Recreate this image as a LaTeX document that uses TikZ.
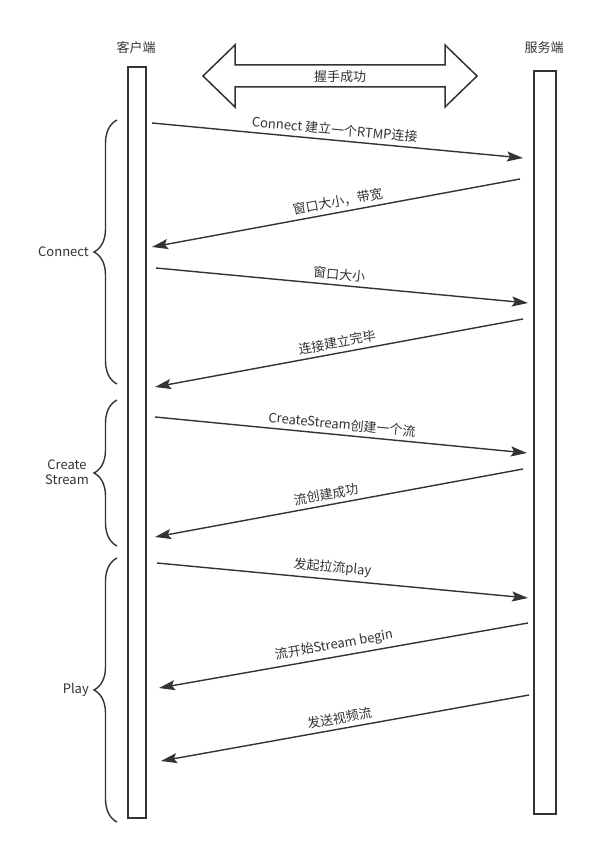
\documentclass[tikz,border=0pt]{standalone}
\usepackage{fontspec}
\setmainfont{Noto Sans CJK SC}
\usetikzlibrary{arrows.meta,decorations.pathreplacing}
\definecolor{ink}{HTML}{333333}
\begin{document}
\begin{tikzpicture}[x=1pt,y=-1pt,
  txt/.style={font=\fontsize{13}{15.5}\selectfont,text=ink,inner sep=1pt},
  lifeline/.style={draw=ink,line width=1.6pt,fill=white,inner sep=0pt,outer sep=0pt},
  msg/.style={draw=ink,line width=1.4pt,-{Stealth[length=16pt,width=10pt,inset=3pt]}},
  lab/.style={txt,sloped,above,inner sep=4pt},
  bracestyle/.style={draw=ink,line width=1.4pt,decorate,decoration={brace,amplitude=23pt}}
]
\useasboundingbox (0,0) rectangle (614,861);
\fill[white] (0,0) rectangle (614,861);

% lifelines
\node[lifeline,minimum width=18pt,minimum height=751pt] (client) at (137,442.5) {};
\node[lifeline,minimum width=22pt,minimum height=743pt] (server) at (545,442.5) {};
\node[txt] (clientlab) at (136,48) {客户端};
\node[txt] (serverlab) at (544,48) {服务端};

% handshake double arrow
\draw[draw=ink,line width=1.5pt,line join=miter] (203,76) -- (235,45) -- (235,65) -- (445,65) -- (445,45) -- (477,76)
  -- (445,107) -- (445,87) -- (235,87) -- (235,107) -- cycle;
\node[txt] (hs) at (340,77) {握手成功};

% endpoints
\coordinate (a1s) at (152,123); \coordinate (a1e) at (523,158);
\coordinate (a2s) at (520,179); \coordinate (a2e) at (152,247);
\coordinate (a3s) at (156,268); \coordinate (a3e) at (528,303);
\coordinate (a4s) at (523,319); \coordinate (a4e) at (155,387);
\coordinate (a5s) at (155,417); \coordinate (a5e) at (527,453);
\coordinate (a6s) at (523,469); \coordinate (a6e) at (155,537);
\coordinate (a7s) at (157,563); \coordinate (a7e) at (528,598);
\coordinate (a8s) at (528,623); \coordinate (a8e) at (159,688);
\coordinate (a9s) at (529,695); \coordinate (a9e) at (161,761);

\draw[msg] (a1s) -- node[lab,pos=0.49] (l1) {Connect 建立一个RTMP连接} (a1e);
\draw[msg] (a2s) -- node[lab,pos=0.49] (l2) {窗口大小，带宽} (a2e);
\draw[msg] (a3s) -- node[lab,pos=0.49] (l3) {窗口大小} (a3e);
\draw[msg] (a4s) -- node[lab,pos=0.50] (l4) {连接建立完毕} (a4e);
\draw[msg] (a5s) -- node[lab,pos=0.50] (l5) {CreateStream创建一个流} (a5e);
\draw[msg] (a6s) -- node[lab,pos=0.53] (l6) {流创建成功} (a6e);
\draw[msg] (a7s) -- node[lab,pos=0.47] (l7) {发起拉流play} (a7e);
\draw[msg] (a8s) -- node[lab,pos=0.52] (l8) {流开始Stream begin} (a8e);
\draw[msg] (a9s) -- node[lab,pos=0.51] (l9) {发送视频流} (a9e);

% braces
\coordinate (b1b) at (117,384); \coordinate (b1t) at (117,120);
\coordinate (b2b) at (117,546); \coordinate (b2t) at (117,400);
\coordinate (b3b) at (117,822); \coordinate (b3t) at (117,558);
\draw[bracestyle] (b1b) -- (b1t);
\draw[bracestyle] (b2b) -- (b2t);
\draw[bracestyle] (b3b) -- (b3t);
\node[txt,anchor=east] (g1) at (90,252) {Connect};
\node[txt,align=center] (g2) at (67,472) {Create\\Stream};
\node[txt,anchor=east] (g3) at (90,690) {Play};
\end{tikzpicture}
\end{document}
